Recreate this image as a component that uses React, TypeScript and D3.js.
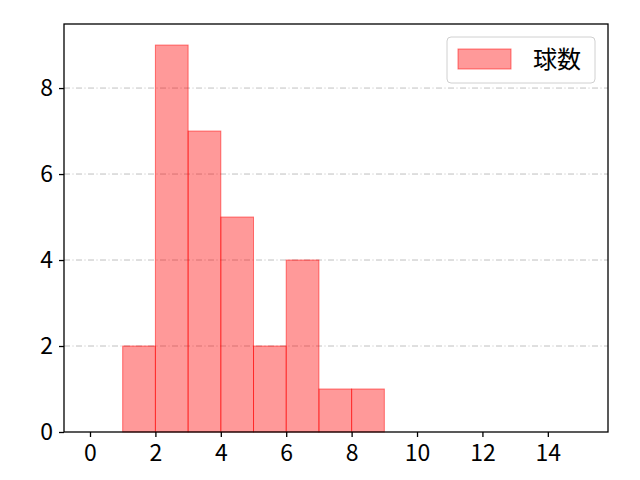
import { useRef, useEffect } from "react";
import * as d3 from "d3";

const binStarts = [1, 2, 3, 4, 5, 6, 7, 8];
const counts = [2, 9, 7, 5, 2, 4, 1, 1];
const xTicks = [0, 2, 4, 6, 8, 10, 12, 14];
const yTicks = [0, 2, 4, 6, 8];
const legendLabel = "球数";

const W = 640;
const H = 480;
const FONT = "'Noto Sans CJK JP', 'DejaVu Sans', sans-serif";

export default function App() {
  const svgRef = useRef<SVGSVGElement>(null);

  useEffect(() => {
    const svg = d3.select(svgRef.current);
    svg.selectAll("*").remove();

    const margin = { top: 24, right: 32, bottom: 48, left: 64 };
    const innerW = W - margin.left - margin.right;
    const innerH = H - margin.top - margin.bottom;

    const x = d3.scaleLinear().domain([-0.795, 15.84]).range([0, innerW]);
    const y = d3.scaleLinear().domain([0, 9.49]).range([innerH, 0]);

    const g = svg.append("g").attr("transform", `translate(${margin.left},${margin.top})`);

    // grid
    g.selectAll(".grid")
      .data(yTicks.filter(t => t > 0))
      .enter()
      .append("line")
      .attr("x1", 0)
      .attr("x2", innerW)
      .attr("y1", d => y(d))
      .attr("y2", d => y(d))
      .attr("stroke", "#b0b0b0")
      .attr("stroke-width", 0.8)
      .attr("stroke-dasharray", "6,2.5,1,2.5");

    // bars
    g.selectAll(".bar")
      .data(binStarts)
      .enter()
      .append("rect")
      .attr("x", d => x(d))
      .attr("y", (d, i) => y(counts[i]))
      .attr("width", d => x(d + 1) - x(d))
      .attr("height", (d, i) => innerH - y(counts[i]))
      .attr("fill", "rgba(255,0,0,0.4)")
      .attr("stroke", "rgba(255,0,0,0.5)")
      .attr("stroke-width", 1);

    // axes
    const xAxis = g.append("g")
      .attr("transform", `translate(0,${innerH})`)
      .call(d3.axisBottom(x).tickValues(xTicks).tickSize(5).tickPadding(8).tickFormat(d3.format("d")));
    const yAxis = g.append("g")
      .call(d3.axisLeft(y).tickValues(yTicks).tickSize(5).tickPadding(6).tickFormat(d3.format("d")));
    [xAxis, yAxis].forEach(a => {
      a.select(".domain").remove();
      a.selectAll(".tick line").attr("stroke", "#000").attr("stroke-width", 1.3);
      a.selectAll(".tick text")
        .attr("fill", "#000")
        .style("font-family", FONT)
        .style("font-size", "23px");
    });

    // frame
    g.append("rect")
      .attr("x", 0)
      .attr("y", 0)
      .attr("width", innerW)
      .attr("height", innerH)
      .attr("fill", "none")
      .attr("stroke", "#000")
      .attr("stroke-width", 1.3);

    // legend
    const lg = g.append("g").attr("transform", `translate(${innerW - 161},13)`);
    lg.append("rect")
      .attr("width", 148)
      .attr("height", 46)
      .attr("rx", 4)
      .attr("fill", "#fff")
      .attr("fill-opacity", 0.8)
      .attr("stroke", "#d0d0d0");
    lg.append("rect")
      .attr("x", 11)
      .attr("y", 12)
      .attr("width", 53)
      .attr("height", 20)
      .attr("fill", "rgba(255,0,0,0.4)")
      .attr("stroke", "rgba(255,0,0,0.5)");
    lg.append("text")
      .attr("x", 86)
      .attr("y", 31)
      .style("font-family", FONT)
      .style("font-size", "24px")
      .attr("fill", "#000")
      .text(legendLabel);
  }, []);

  return (
    <svg
      ref={svgRef}
      width={W}
      height={H}
      style={{ display: "block", position: "absolute", left: 0, top: 0, background: "#fff" }}
    />
  );
}
